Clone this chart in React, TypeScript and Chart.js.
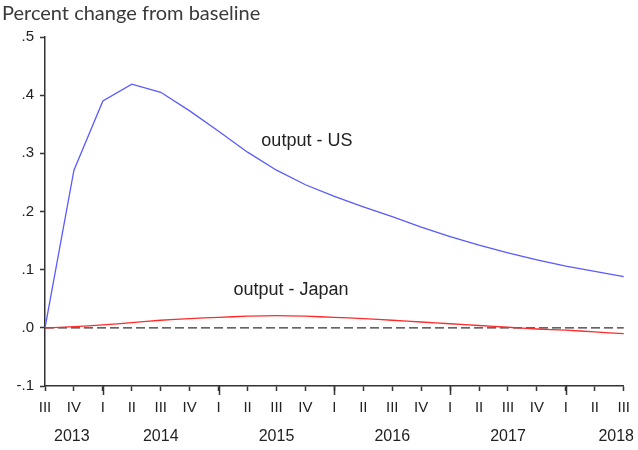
import React, { useEffect, useRef } from "react";
import { Chart, registerables } from "chart.js";

Chart.register(...registerables);

const quarters = ["III","IV","I","II","III","IV","I","II","III","IV","I","II","III","IV","I","II","III","IV","I","II","III"];
const quarterYears = [2013,2013,2014,2014,2014,2014,2015,2015,2015,2015,2016,2016,2016,2016,2017,2017,2017,2017,2018,2018,2018];
const years = [2013, 2014, 2015, 2016, 2017, 2018];

const outputUS = [0.0, 0.271, 0.390, 0.419, 0.405, 0.373, 0.338, 0.302, 0.271, 0.246, 0.226, 0.208, 0.191, 0.173, 0.157, 0.142, 0.129, 0.117, 0.106, 0.097, 0.088];
const outputJapan = [0.0, 0.002, 0.005, 0.009, 0.013, 0.016, 0.018, 0.020, 0.021, 0.020, 0.018, 0.016, 0.013, 0.010, 0.007, 0.004, 0.001, -0.002, -0.004, -0.007, -0.010];
const baseline = quarters.map(() => 0);

const yTicks = [-0.1, 0.0, 0.1, 0.2, 0.3, 0.4, 0.5];

const annotations = [
  { text: "output - US", x: 9.05, y: 0.321 },
  { text: "output - Japan", x: 8.5, y: 0.065 },
];

const TITLE = "Percent change from baseline";

function fmtY(v: number) {
  const n = Math.round(v * 10);
  return (n < 0 ? "-" : "") + "." + Math.abs(n);
}

const textPlugin = {
  id: "textPlugin",
  afterDraw(chart: any) {
    const ctx = chart.ctx;
    const xs = chart.scales.x;
    const ys = chart.scales.y;
    const area = chart.chartArea;
    ctx.save();
    // title
    ctx.fillStyle = "#3a3a3a";
    ctx.font = "20px Lato, 'Open Sans', sans-serif";
    ctx.textAlign = "left";
    ctx.textBaseline = "middle";
    ctx.fillText(TITLE, 2, 14);

    // annotations
    ctx.fillStyle = "#222";
    ctx.font = "18px 'Liberation Sans', Arial, sans-serif";
    ctx.textAlign = "center";
    for (const a of annotations) {
      ctx.fillText(a.text, xs.getPixelForValue(a.x), ys.getPixelForValue(a.y));
    }

    // major ticks (year starts) longer
    ctx.strokeStyle = "#333";
    ctx.lineWidth = 1.5;
    quarters.forEach((q, i) => {
      if (q === "I") {
        const px = Math.round(xs.getPixelForValue(i)) + 0.5;
        ctx.beginPath();
        ctx.moveTo(px, area.bottom);
        ctx.lineTo(px, area.bottom + 9);
        ctx.stroke();
      }
    });

    // year labels
    ctx.fillStyle = "#222";
    ctx.font = "16px 'Liberation Sans', Arial, sans-serif";
    ctx.textBaseline = "middle";
    ctx.textAlign = "left";
    for (const y of years) {
      let idx = -1;
      quarterYears.forEach((qy, i) => {
        if (qy === y && quarters[i] === "III") idx = i;
      });
      if (idx < 0) continue;
      const w = ctx.measureText(String(y)).width;
      const cx = xs.getPixelForValue(idx);
      let left = cx - w / 2;
      if (left < area.left + 9) left = area.left + 9;
      if (left + w > chart.width - 4) left = chart.width - 4 - w;
      ctx.fillText(String(y), left, 437);
    }
    ctx.restore();
  },
};

export default function App() {
  const ref = useRef<HTMLCanvasElement | null>(null);
  useEffect(() => {
    if (!ref.current) return;
    const chart = new Chart(ref.current, {
      type: "line",
      data: {
        labels: quarters,
        datasets: [
          {
            label: "output - US",
            data: outputUS,
            borderColor: "#5a5aff",
            borderWidth: 1.3,
            pointRadius: 0,
            tension: 0,
            fill: false,
          },
          {
            label: "output - Japan",
            data: outputJapan,
            borderColor: "#ff2a2a",
            borderWidth: 1.3,
            pointRadius: 0,
            tension: 0.3,
            fill: false,
          },
          {
            label: "baseline",
            data: baseline,
            borderColor: "#333",
            borderWidth: 1.3,
            borderDash: [9, 4],
            pointRadius: 0,
            tension: 0,
            fill: false,
          },
        ],
      },
      options: {
        responsive: false,
        animation: false,
        layout: { padding: { top: 37, right: 9, left: 0, bottom: 0 } },
        plugins: {
          legend: { display: false },
          tooltip: { enabled: false },
          title: { display: false },
        },
        scales: {
          x: {
            type: "category",
            offset: false,
            grid: {
              drawOnChartArea: false,
              drawTicks: true,
              tickLength: 5,
              tickColor: "#333",
              tickWidth: 1.5,
              offset: false,
            },
            border: { display: true, color: "#333", width: 1.5 },
            ticks: {
              autoSkip: false,
              maxRotation: 0,
              minRotation: 0,
              padding: 8,
              color: "#222",
              font: { family: "'Liberation Sans', Arial, sans-serif", size: 15 },
            },
            afterFit: (s: any) => {
              s.height = 64;
            },
          },
          y: {
            type: "linear",
            min: -0.1,
            max: 0.5,
            afterBuildTicks: (s: any) => {
              s.ticks = yTicks.map((v) => ({ value: v }));
            },
            grid: {
              drawOnChartArea: false,
              drawTicks: true,
              tickLength: 5,
              tickColor: "#333",
              tickWidth: 1.5,
            },
            border: { display: true, color: "#333", width: 1.5 },
            ticks: {
              padding: 6,
              color: "#222",
              font: { family: "'Liberation Sans', Arial, sans-serif", size: 15 },
              callback: (v: any) => fmtY(Number(v)),
            },
            afterFit: (s: any) => {
              s.width = 45;
            },
          },
        },
      },
      plugins: [textPlugin],
    });
    return () => chart.destroy();
  }, []);
  return (
    <div style={{ position: "fixed", left: 0, top: 0, width: 638, height: 450, background: "#fff" }}>
      <canvas ref={ref} width={638} height={450} style={{ width: 638, height: 450, display: "block" }} />
    </div>
  );
}
